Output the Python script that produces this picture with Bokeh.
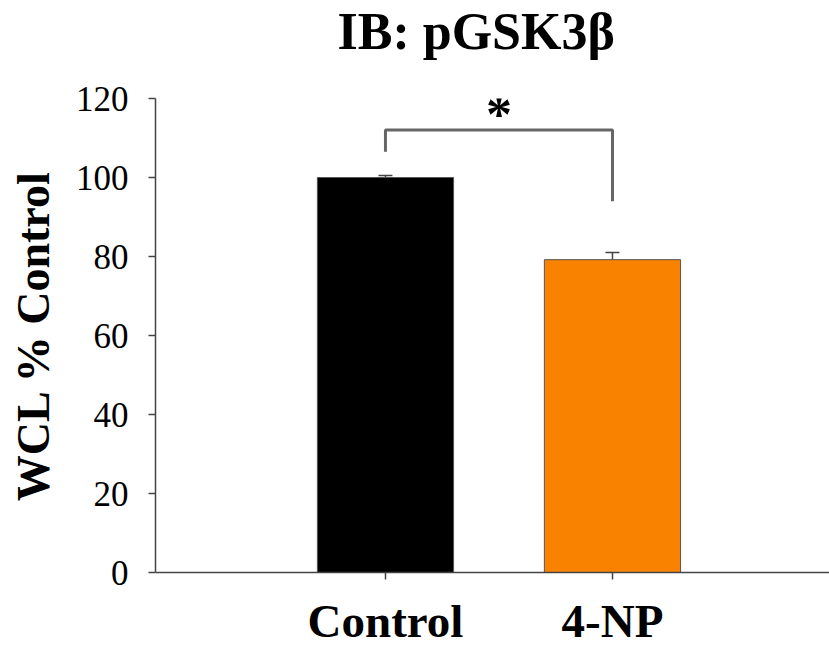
from bokeh.plotting import figure
from bokeh.models import (Range1d, FixedTicker, Whisker, TeeHead, ColumnDataSource,
                          Title)
from bokeh.core.properties import value
from bokeh.embed import file_html
from bokeh.resources import INLINE

# ---- data ----
categories = ["Control", "4-NP"]
means = [100.0, 79.2]
errors = [0.5, 1.8]
bar_colors = ["#000000", "#F98200"]
y_ticks = [0, 20, 40, 60, 80, 100, 120]
# significance bracket (y values) and marker
sig_top = 112.0
sig_left_end = 106.5
sig_right_end = 94.0
sig_star_y = 116.0
sig_text = "*"
title_text = "IB: pGSK3\u03b2"

xs = list(range(len(categories)))
upper = [m + e for m, e in zip(means, errors)]
src = ColumnDataSource(dict(x=xs, top=means, color=bar_colors,
                            upper=upper, lower=means))

SERIF = "Liberation Serif"

p = figure(width=829, height=649, output_backend="svg", toolbar_location=None,
           x_range=Range1d(-1.013, 1.956), y_range=Range1d(0, 120),
           min_border_left=155, min_border_right=0, min_border_top=98,
           min_border_bottom=76)
p.outline_line_color = None
p.xgrid.visible = False
p.ygrid.visible = False
p.background_fill_color = "white"

p.vbar(x="x", top="top", width=0.6, bottom=0, fill_color="color",
       line_color="#555555", line_width=1, source=src)

w = Whisker(base="x", upper="upper", lower="lower", source=src,
            line_color="#444444", line_width=1.5,
            upper_head=TeeHead(size=14, line_color="#444444", line_width=1.5),
            lower_head=None)
p.add_layout(w)

# bracket
p.line(x=[xs[0], xs[0], xs[1], xs[1]],
       y=[sig_left_end, sig_top, sig_top, sig_right_end],
       line_color="#666666", line_width=3)
p.text(x=[(xs[0] + xs[1]) / 2], y=[sig_star_y], text=[sig_text],
       text_font=value(SERIF), text_font_size="52px", text_font_style="bold",
       text_align="center", text_baseline="middle", text_color="black")

# axes
p.yaxis.ticker = FixedTicker(ticks=y_ticks)
p.xaxis.ticker = FixedTicker(ticks=xs)
p.xaxis.major_label_overrides = {i: c for i, c in zip(xs, categories)}
for ax in (p.xaxis[0], p.yaxis[0]):
    ax.axis_line_color = "#444444"
    ax.axis_line_width = 1.5
    ax.major_tick_line_color = "#444444"
    ax.major_tick_line_width = 1.5
    ax.major_tick_in = 0
    ax.major_tick_out = 7
    ax.minor_tick_line_color = None
    ax.major_label_text_font = SERIF
    ax.major_label_text_color = "black"

p.yaxis.major_label_text_font_size = "35px"
p.yaxis.major_label_standoff = 20
p.yaxis.axis_label = "WCL % Control"
p.yaxis.axis_label_text_font = SERIF
p.yaxis.axis_label_text_font_size = "46px"
p.yaxis.axis_label_text_font_style = "bold"
p.yaxis.axis_label_text_color = "black"
p.yaxis.axis_label_standoff = 14

p.xaxis.major_label_text_font_size = "47px"
p.xaxis.major_label_text_font_style = "bold"
p.xaxis.major_label_standoff = 15

# spacer between frame and title (first "above" item sits nearest the frame)
spacer = Title(text=" ", text_font_size="10px", standoff=26)
p.add_layout(spacer, "above")
t = Title(text=title_text, text_font=SERIF, text_font_size="52px",
          text_font_style="bold", align="left", offset=182,
          vertical_align="bottom", text_color="black", standoff=0)
p.add_layout(t, "above")

open("out.html", "w").write(file_html(p, INLINE))
